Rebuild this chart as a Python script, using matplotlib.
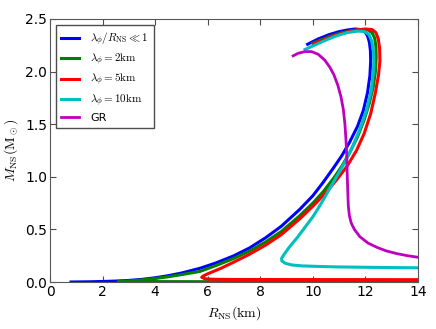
import matplotlib
matplotlib.use('Agg')
import matplotlib.pyplot as plt

plt.rcParams['mathtext.fontset'] = 'cm'
plt.rcParams['font.size'] = 10

# lambda_phi / R_NS << 1
blue_r = [0.8, 1.5, 2.0, 2.5, 3.0, 3.5, 4.0, 4.5, 5.0, 5.7, 6.3, 7.0, 7.6, 8.2, 8.8, 9.5,
          10.0, 10.4, 10.8, 11.1, 11.4, 11.7, 11.92, 12.08, 12.17, 12.2, 12.19, 12.15, 12.08,
          11.98, 11.8, 11.6, 11.3, 11.0, 10.6, 10.2, 9.8]
blue_m = [0.0, 0.002, 0.005, 0.009, 0.015, 0.025, 0.04, 0.06, 0.085, 0.13, 0.18, 0.25, 0.325,
          0.42, 0.53, 0.69, 0.82, 0.95, 1.09, 1.2, 1.33, 1.48, 1.63, 1.8, 1.96, 2.1, 2.2, 2.28,
          2.34, 2.38, 2.4, 2.405, 2.395, 2.38, 2.35, 2.31, 2.26]

# lambda_phi = 2 km
green_r = [14.0, 10.0, 6.0, 3.5, 2.6, 3.0, 3.5, 4.0, 4.5, 5.0, 5.7, 6.3, 7.0, 7.6, 8.2, 8.8,
           9.5, 10.0, 10.4, 10.8, 11.1, 11.4, 11.7, 11.95, 12.15, 12.3, 12.38, 12.41, 12.4,
           12.35, 12.25, 12.1, 11.85, 11.5, 11.1, 10.7, 10.3, 10.0]
green_m = [0.003, 0.003, 0.003, 0.004, 0.005, 0.01, 0.02, 0.033, 0.05, 0.07, 0.1, 0.155, 0.225,
           0.295, 0.38, 0.48, 0.63, 0.75, 0.86, 0.99, 1.1, 1.23, 1.38, 1.54, 1.7, 1.86, 2.0,
           2.13, 2.24, 2.32, 2.37, 2.395, 2.4, 2.39, 2.37, 2.34, 2.3, 2.27]

# lambda_phi = 5 km
red_r = [14.0, 10.0, 7.0, 6.2, 5.9, 5.77, 5.85, 6.0, 6.5, 7.0, 7.6, 8.2, 8.8, 9.5, 10.0, 10.5,
         10.9, 11.3, 11.66, 11.95, 12.2, 12.38, 12.5, 12.55, 12.54, 12.49, 12.4, 12.25, 12.0,
         11.6, 11.2, 10.8, 10.4, 10.05]
red_m = [0.022, 0.023, 0.024, 0.026, 0.03, 0.045, 0.06, 0.078, 0.13, 0.19, 0.265, 0.35, 0.45,
         0.6, 0.72, 0.85, 0.97, 1.1, 1.25, 1.41, 1.6, 1.8, 1.97, 2.1, 2.22, 2.31, 2.37, 2.4,
         2.405, 2.395, 2.37, 2.34, 2.3, 2.27]

# lambda_phi = 10 km
cyan_r = [14.0, 13.0, 12.0, 11.0, 10.2, 9.6, 9.2, 8.95, 8.82, 8.81, 8.9, 9.1, 9.4, 9.7, 10.0,
          10.3, 10.6, 10.9, 11.2, 11.5, 11.8, 12.05, 12.22, 12.3, 12.32, 12.3, 12.24, 12.14,
          11.98, 11.7, 11.3, 10.9, 10.5, 10.1, 9.7]
cyan_m = [0.135, 0.137, 0.14, 0.143, 0.148, 0.153, 0.162, 0.178, 0.2, 0.225, 0.26, 0.33, 0.42,
          0.52, 0.62, 0.74, 0.87, 1.0, 1.13, 1.28, 1.46, 1.64, 1.82, 1.98, 2.1, 2.2, 2.29, 2.35,
          2.38, 2.385, 2.37, 2.34, 2.3, 2.255, 2.21]

# GR
gr_r = [9.25, 9.45, 9.7, 9.95, 10.2, 10.45, 10.65, 10.8, 10.95, 11.07, 11.16, 11.22, 11.26,
        11.29, 11.31, 11.33, 11.35, 11.39, 11.46, 11.58, 11.79, 12.1, 12.43, 12.8, 13.19,
        13.6, 14.0]
gr_m = [2.15, 2.175, 2.19, 2.19, 2.165, 2.11, 2.04, 1.97, 1.87, 1.76, 1.64, 1.5, 1.35, 1.2,
        1.0, 0.85, 0.72, 0.63, 0.56, 0.5, 0.43, 0.37, 0.33, 0.295, 0.27, 0.25, 0.235]

fig = plt.figure(figsize=(4.36, 3.29), dpi=100)
ax = fig.add_axes([50 / 436, 1 - 282 / 329, 368 / 436, 263 / 329])

ax.plot(blue_r, blue_m, color='b', lw=2.2, label=r'$\lambda_\phi/R_{\rm NS}\ll 1$')
ax.plot(green_r, green_m, color='g', lw=2.2, label=r'$\lambda_\phi=2{\rm km}$')
ax.plot(red_r, red_m, color='r', lw=2.2, label=r'$\lambda_\phi=5{\rm km}$')
ax.plot(cyan_r, cyan_m, color='c', lw=2.2, label=r'$\lambda_\phi=10{\rm km}$')
ax.plot(gr_r, gr_m, color='m', lw=2.0, label='GR')

ax.set_xlim(0, 14)
ax.set_ylim(0, 2.5)
ax.set_xticks(range(0, 15, 2))
ax.set_yticks([0.0, 0.5, 1.0, 1.5, 2.0, 2.5])
ax.set_yticklabels(['0.0', '0.5', '1.0', '1.5', '2.0', '2.5'])
ax.tick_params(direction='in', top=True, right=True, length=4, pad=2, color='0.3')
for s in ax.spines.values():
    s.set_color('0.35')

ax.set_xlabel(r'$R_{\rm NS}({\rm km})$', fontsize=10)
ax.set_ylabel(r'$M_{\rm NS}({\rm M}_\odot)$', fontsize=10)

leg = ax.legend(loc='upper left', fontsize=8, fancybox=False, framealpha=1,
                handlelength=1.6, handletextpad=1.0, borderpad=0.5,
                borderaxespad=0.5, labelspacing=0.35)
leg.get_frame().set_edgecolor('0.3')

fig.savefig('out.png', dpi=100)
